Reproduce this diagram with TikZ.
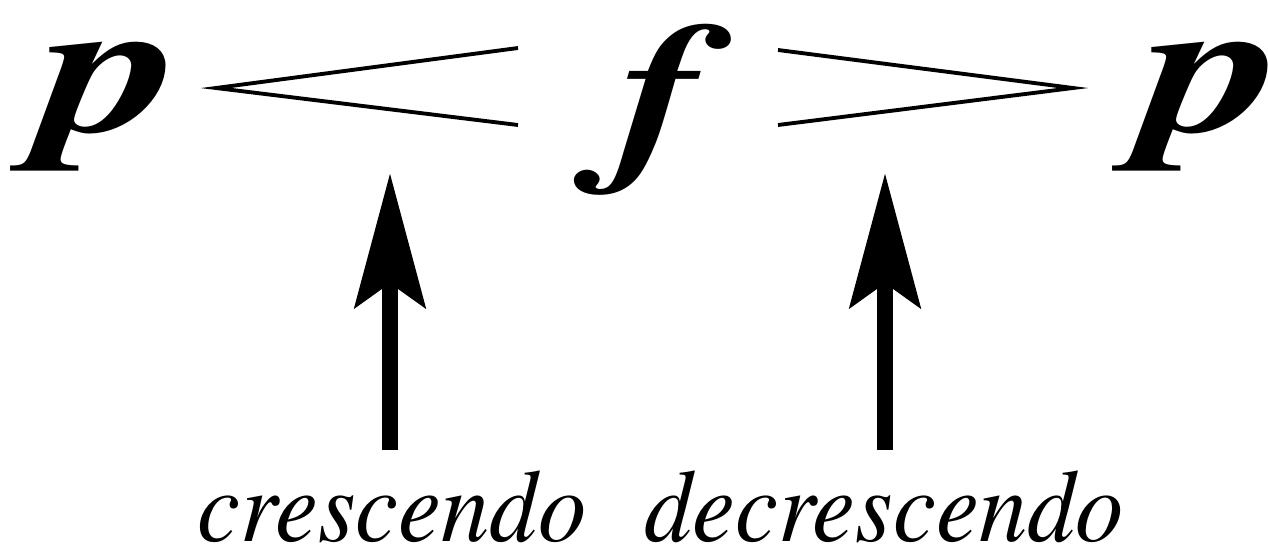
\documentclass[tikz,border=0pt]{standalone}
\usepackage{fontspec}
\usepackage{graphicx}
\setmainfont{TeX Gyre Termes}
\usetikzlibrary{arrows.meta}
\begin{document}
\begin{tikzpicture}[x=0.01cm,y=-0.01cm,
  dynp/.style={inner sep=0pt, font=\fontsize{55}{60}\selectfont\bfseries\itshape},
  dynf/.style={inner sep=0pt, font=\fontsize{55}{60}\selectfont\bfseries\itshape},
  lbl/.style={inner sep=0pt, anchor=base, font=\fontsize{28}{30}\selectfont\itshape},
  hairpin/.style={line width=1.1pt, line join=miter},
  pointer/.style={line width=4.8pt, -{Stealth[length=13.4mm, width=7mm, inset=2.4mm]}}]
\useasboundingbox (0,0) rectangle (1268,548);
\node[dynp] (p1) at (112,107) {\scalebox{1.42}[1]{p}};
\node[dynf] (f) at (660,110) {\scalebox{1.32}[0.98]{f}};
\node[dynp] (p2) at (1214,107) {\scalebox{1.42}[1]{p}};
\draw[hairpin] (518,48) -- (216,88) -- (518,125);
\draw[hairpin] (778,50) -- (1073,88) -- (778,125);
\node[lbl] (cre) at (392,541) {\scalebox{0.98}[1.05]{crescendo}};
\node[lbl] (dec) at (884,541) {\scalebox{0.98}[1.05]{decrescendo}};
\coordinate (a1) at (390,450);
\coordinate (a1t) at (390,173);
\coordinate (a2) at (885,450);
\coordinate (a2t) at (885,173);
\draw[pointer] (a1) -- (a1t);
\draw[pointer] (a2) -- (a2t);
\end{tikzpicture}
\end{document}
